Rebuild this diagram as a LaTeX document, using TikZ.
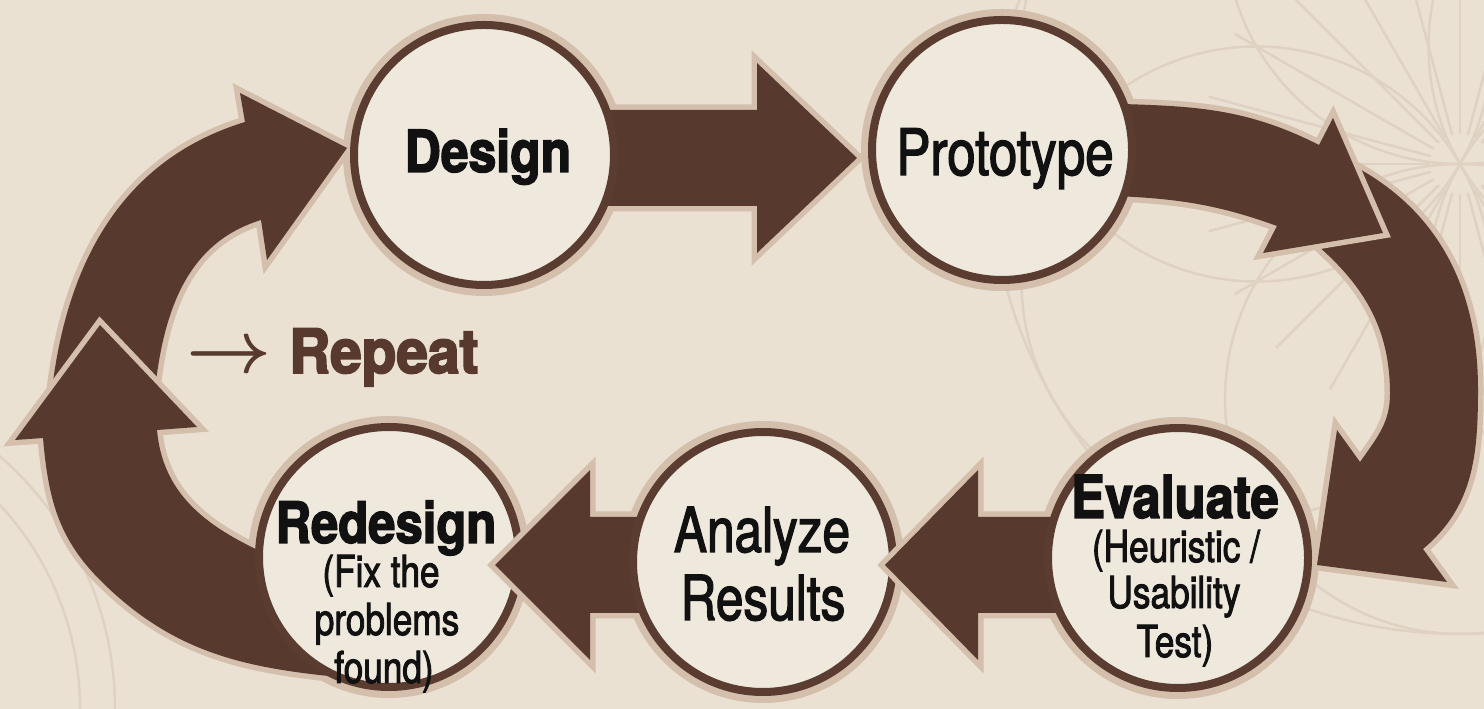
\RequirePackage{fix-cm}
\documentclass[tikz,border=0pt]{standalone}
\usepackage{fontspec}
\setmainfont{TeX Gyre Heros}
\newfontfamily\narrowreg[FakeStretch=0.80, FakeBold=2]{TeX Gyre Heros}
\newfontfamily\narrowbold[FakeStretch=0.86, FakeBold=2.5]{TeX Gyre Heros}
\newfontfamily\repeatfont[FakeStretch=0.93, FakeBold=3]{TeX Gyre Heros}

\definecolor{paper}{HTML}{EAE1D3}
\definecolor{disc}{HTML}{EEE8DD}
\definecolor{arrowbrown}{HTML}{573A2D}
\definecolor{ringbrown}{HTML}{5A3C30}
\definecolor{tanline}{HTML}{D4BEAC}
\definecolor{deco}{HTML}{DFD2C2}
\definecolor{ink}{HTML}{111111}

\begin{document}
\begin{tikzpicture}[x=1pt,y=1pt,
  band/.style={fill=arrowbrown,
    preaction={draw=tanline, line width=11pt, line join=miter, miter limit=5}},
  halo/.style={fill=tanline},
  stage/.style={circle, inner sep=0pt, minimum size=260pt,
    draw=ringbrown, line width=8pt, fill=disc},
  boldlbl/.style={anchor=base, inner sep=0pt, text=ink,
    font={\narrowbold\bfseries\fontsize{#1}{#1}\selectfont}},
  reglbl/.style={anchor=base, inner sep=0pt, text=ink,
    font={\narrowreg\fontsize{#1}{#1}\selectfont}}]

% page and background
\fill[paper] (0,0) rectangle (1484,709);
\useasboundingbox (0,0) rectangle (1484,709);

% faint ornament lines in the background
\begin{scope}
  \clip (0,0) rectangle (1484,709);
  \begin{scope}[draw=deco, line width=2.5pt]
    \foreach \a in {0,15,...,345}
      \draw (1460,545) ++(\a:30) -- ++(\a:230);
    \foreach \a in {30,90,...,330}
      \draw (1460,545) ++(\a:235) circle (235);
    \draw (1460,545) circle (470);
    \draw (-220,0) circle (300);
    \draw (-220,0) circle (335);
  \end{scope}
\end{scope}

% stage centres
\coordinate (cD) at (484,554);
\coordinate (cP) at (1002,559);
\coordinate (cE) at (1178,151);
\coordinate (cA) at (763,147);
\coordinate (cR) at (389,152);

% light halos behind every stage
\foreach \c in {cD,cP,cE,cA,cR}
  \fill[halo] (\c) circle (141);

% Design -> Prototype
\path[band] (560,599) -- (757,599) -- (757,646) -- (857,551)
  -- (757,456) -- (757,503) -- (560,503) -- cycle;

% Prototype -> Evaluate, lower bend
\path[band] (1310,470) -- (1340,550) to[out=-25,in=90] (1478,320)
  to[out=-90,in=40] (1423,160) -- (1447,127) -- (1317,144) -- (1337,279)
  -- (1360,247) to[out=55,in=-90] (1390,315) to[out=90,in=-40] (1310,470) -- cycle;

% Prototype -> Evaluate, upper bend
\path[band] (1090,606) to[out=-2,in=153] (1319,564) -- (1333,591)
  -- (1383,476) -- (1263,456) -- (1277,483) to[out=160,in=-2] (1090,514) -- cycle;

% Redesign -> Design, upper bend
\path[band] (50,300) to[out=85,in=197] (245,587) -- (240,616) -- (347,561)
  -- (267,449) -- (261,489) to[out=197,in=85] (153,300) -- cycle;

% Redesign -> Design, lower bend
\path[band] (360,30) to[out=175,in=-45] (100,129) to[out=135,in=-85] (43,271)
  -- (15,269) -- (100,384) -- (197,282) -- (157,279)
  to[out=-85,in=155] (260,158) -- (300,120) -- cycle;

% stage discs
\node[stage] (design) at (cD) {};
\node[stage] (prototype) at (cP) {};
\node[stage] (redesign) at (cR) {};

% Analyze -> Redesign
\path[band] (700,192) -- (590,192) -- (590,239) -- (495,144)
  -- (590,49) -- (590,96) -- (700,96) -- cycle;
\node[stage] (analyze) at (cA) {};

% Evaluate -> Analyze
\path[band] (1100,192) -- (978,192) -- (978,239) -- (885,144)
  -- (978,49) -- (978,96) -- (1100,96) -- cycle;
\node[stage] (evaluate) at (cE) {};

% labels
\node[boldlbl=58] (tdesign) at (488,537) {Design};
\node[reglbl=64] (tproto) at (1005,534) {Prototype};
\node[boldlbl=59] (teval) at (1175,191) {Evaluate};
\node[reglbl=44] (teval2) at (1176,147) {(Heuristic /};
\node[reglbl=44] (teval3) at (1174,101) {Usability};
\node[reglbl=44] (teval4) at (1175,52) {Test)};
\node[reglbl=62] (tana1) at (762,157) {Analyze};
\node[reglbl=62] (tana2) at (763,89) {Results};
\node[boldlbl=57] (tred) at (386,166) {Redesign};
\node[reglbl=44] (tred2) at (381,122) {(Fix the};
\node[reglbl=44] (tred3) at (387,74) {problems};
\node[reglbl=44] (tred4) at (384,26) {found)};

\node[anchor=base west, inner sep=0pt, text=arrowbrown] (trepeat) at (186,336)
  {{\fontsize{74}{74}\selectfont\boldmath$\rightarrow$}\hspace{18pt}%
   {\repeatfont\bfseries\fontsize{61}{61}\selectfont Repeat}};
\end{tikzpicture}
\end{document}
